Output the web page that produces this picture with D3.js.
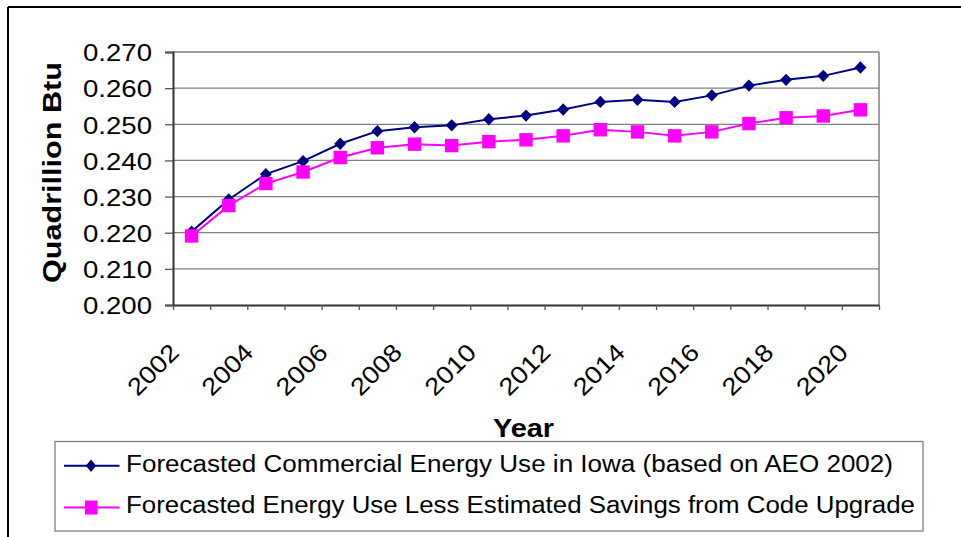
<!DOCTYPE html>
<html>
<head>
<meta charset="utf-8">
<script src="https://cdn.jsdelivr.net/npm/d3@7"></script>
<style>
  html, body { margin: 0; padding: 0; background: #fff; }
  svg { display: block; font-family: "Liberation Sans", Arial, sans-serif; }
</style>
</head>
<body>
<svg id="chart" width="961" height="537"></svg>
<script>
// Forecast years (category axis)
const years = d3.range(2002, 2021);
// Labelled years on the x axis
const yearLabels = [2002, 2004, 2006, 2008, 2010, 2012, 2014, 2016, 2018, 2020];
// Forecasted commercial energy use in Iowa, quadrillion Btu
const forecastUse = [0.2203, 0.2292, 0.2362, 0.2398, 0.2446, 0.2481, 0.2492, 0.2497, 0.2514, 0.2524,
                     0.2541, 0.2562, 0.2568, 0.2562, 0.2580, 0.2607, 0.2623, 0.2634, 0.2657];
// Forecast less the estimated savings from the code upgrade
const lessSavings = [0.2191, 0.2275, 0.2336, 0.2368, 0.2408, 0.2435, 0.2445, 0.2441, 0.2452, 0.2457,
                     0.2468, 0.2485, 0.2479, 0.2468, 0.2479, 0.2502, 0.2518, 0.2523, 0.2540];
// Value axis ticks
const yTicks = [0.200, 0.210, 0.220, 0.230, 0.240, 0.250, 0.260, 0.270];
const seriesNames = [
  "Forecasted Commercial Energy Use in Iowa (based on AEO 2002)",
  "Forecasted Energy Use Less Estimated Savings from Code Upgrade"
];

const svg = d3.select("#chart");
const plot = { left: 173, right: 879, top: 52, bottom: 305 };

const x = d3.scaleBand().domain(years).range([plot.left, plot.right]).paddingInner(0).paddingOuter(0);
const xEdge = d3.scaleLinear().domain([0, years.length]).range([plot.left, plot.right]);
const y = d3.scaleLinear().domain([0.200, 0.270]).range([plot.bottom, plot.top]);
const cx = d => x(d) + x.bandwidth() / 2;

// Outer chart frame (top and left edges)
svg.append("line").attr("x1", 8).attr("x2", 961).attr("y1", 7).attr("y2", 7)
  .attr("stroke", "#000").attr("stroke-width", 2);
svg.append("line").attr("x1", 8).attr("x2", 8).attr("y1", 7).attr("y2", 537)
  .attr("stroke", "#000").attr("stroke-width", 2);

// Horizontal gridlines
svg.append("g").selectAll("line").data(yTicks.slice(1)).join("line")
  .attr("x1", plot.left).attr("x2", plot.right)
  .attr("y1", d => y(d)).attr("y2", d => y(d))
  .attr("stroke", "#808080").attr("stroke-width", 1.3);

// Right edge of the plot area
svg.append("line").attr("x1", plot.right).attr("x2", plot.right)
  .attr("y1", plot.top).attr("y2", plot.bottom)
  .attr("stroke", "#808080").attr("stroke-width", 1.5);

// Y axis
const yAxis = svg.append("g").attr("transform", `translate(${plot.left},0)`)
  .call(d3.axisLeft(y).tickValues(yTicks).tickFormat(d3.format(".3f")).tickSize(8).tickPadding(13));
yAxis.select(".domain").attr("stroke", "#333").attr("stroke-width", 2);
yAxis.selectAll(".tick line").attr("stroke", "#555").attr("stroke-width", 1.3);
yAxis.selectAll(".tick text")
  .attr("font-size", 24.5).attr("fill", "#000")
  .attr("dy", "0.36em")
  .attr("textLength", 69).attr("lengthAdjust", "spacingAndGlyphs");

// X axis: tick marks on category boundaries
const xAxis = svg.append("g").attr("transform", `translate(0,${plot.bottom})`)
  .call(d3.axisBottom(xEdge).tickValues(d3.range(years.length + 1)).tickFormat("").tickSize(5).tickSizeOuter(0));
xAxis.select(".domain").attr("stroke", "#333").attr("stroke-width", 2);
xAxis.selectAll(".tick line").attr("stroke", "#555").attr("stroke-width", 1.3);

// X axis labels, rotated
const xLab = svg.append("g").attr("transform", `translate(0,${plot.bottom})`)
  .call(d3.axisBottom(x).tickValues(yearLabels).tickSize(0));
xLab.select(".domain").remove();
xLab.selectAll(".tick text")
  .attr("font-size", 24.5).attr("fill", "#000")
  .attr("text-anchor", "end")
  .attr("x", 0).attr("y", 0).attr("dy", 0)
  .attr("textLength", 61).attr("lengthAdjust", "spacingAndGlyphs")
  .attr("transform", "translate(-11,49) rotate(-45)");

// Axis titles
svg.append("text")
  .attr("transform", `translate(61,${(62 + 283) / 2}) rotate(-90)`)
  .attr("text-anchor", "middle")
  .attr("font-size", 25).attr("font-weight", "bold")
  .attr("textLength", 221).attr("lengthAdjust", "spacingAndGlyphs")
  .text("Quadrillion Btu");
svg.append("text")
  .attr("x", 493).attr("y", 437)
  .attr("font-size", 25.5).attr("font-weight", "bold")
  .attr("textLength", 61).attr("lengthAdjust", "spacingAndGlyphs")
  .text("Year");

// Series lines
const line = d3.line().x((d, i) => cx(years[i])).y(d => y(d));
svg.append("path").datum(forecastUse).attr("d", line)
  .attr("fill", "none").attr("stroke", "#000080").attr("stroke-width", 2);
svg.append("path").datum(lessSavings).attr("d", line)
  .attr("fill", "none").attr("stroke", "#FF00FF").attr("stroke-width", 2);

// Markers
const diamond = (px, py, rx, ry) => `M${px},${py - ry}L${px + rx},${py}L${px},${py + ry}L${px - rx},${py}Z`;
svg.append("g").selectAll("path").data(forecastUse).join("path")
  .attr("d", (d, i) => diamond(cx(years[i]), y(d), 6, 6.2))
  .attr("fill", "#000080");
svg.append("g").selectAll("rect").data(lessSavings).join("rect")
  .attr("x", (d, i) => cx(years[i]) - 6.7).attr("y", d => y(d) - 6.7)
  .attr("width", 13.4).attr("height", 13.4)
  .attr("fill", "#FF00FF");

// Legend
const legend = svg.append("g");
legend.append("rect").attr("x", 55).attr("y", 441.5).attr("width", 868).attr("height", 89.5)
  .attr("fill", "#fff").attr("stroke", "#808080").attr("stroke-width", 1.3);
const rows = [
  { name: seriesNames[0], color: "#000080", ly: 465.7, ty: 472, len: 767, mark: "diamond" },
  { name: seriesNames[1], color: "#FF00FF", ly: 507.5, ty: 512.7, len: 789, mark: "square" }
];
rows.forEach(r => {
  legend.append("line").attr("x1", 64).attr("x2", 119.5).attr("y1", r.ly).attr("y2", r.ly)
    .attr("stroke", r.color).attr("stroke-width", 2);
  if (r.mark === "diamond") {
    legend.append("path").attr("d", diamond(91, r.ly, 5.2, 6.3)).attr("fill", r.color);
  } else {
    legend.append("rect").attr("x", 85).attr("y", r.ly - 7).attr("width", 12.5).attr("height", 14)
      .attr("fill", r.color);
  }
  legend.append("text").attr("x", 126).attr("y", r.ty)
    .attr("font-size", 23.3).attr("fill", "#000")
    .attr("textLength", r.len).attr("lengthAdjust", "spacingAndGlyphs")
    .text(r.name);
});
</script>
</body>
</html>
